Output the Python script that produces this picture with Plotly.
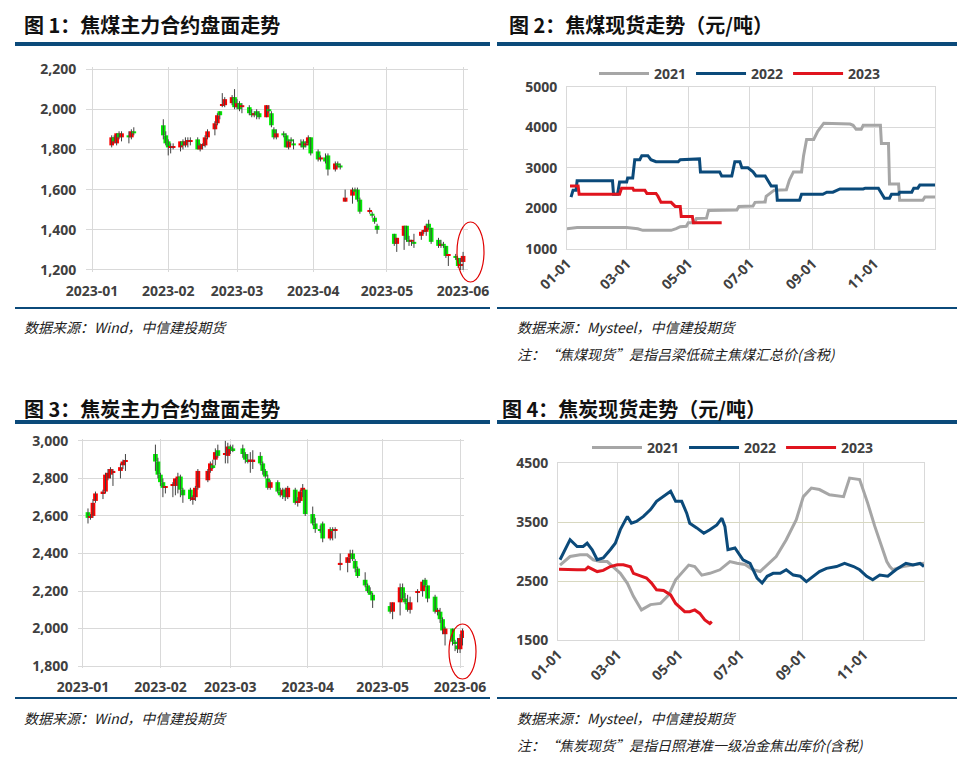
import plotly.graph_objects as go

W, H = 951, 750
OFF = 8
def px(x): return (x - OFF) / W
def py(y): return 1 - (y - OFF) / H

# ---------------- Chart 1: 焦煤 OHLC ----------------
jm_dates = ["2023-01-09","2023-01-10","2023-01-11","2023-01-12","2023-01-13","2023-01-16","2023-01-17","2023-01-18",
 "2023-01-30","2023-01-31","2023-02-01","2023-02-02","2023-02-03","2023-02-06","2023-02-07","2023-02-08","2023-02-09","2023-02-10",
 "2023-02-13","2023-02-14","2023-02-15","2023-02-16","2023-02-17","2023-02-20","2023-02-21","2023-02-22","2023-02-23","2023-02-24",
 "2023-02-27","2023-02-28","2023-03-01","2023-03-02","2023-03-03","2023-03-06","2023-03-07","2023-03-08","2023-03-09","2023-03-10",
 "2023-03-13","2023-03-14","2023-03-15","2023-03-16","2023-03-17","2023-03-20","2023-03-21","2023-03-22","2023-03-23","2023-03-24",
 "2023-03-27","2023-03-28","2023-03-29","2023-03-30","2023-03-31","2023-04-03","2023-04-04","2023-04-06","2023-04-07","2023-04-10",
 "2023-04-11","2023-04-12","2023-04-14","2023-04-17","2023-04-18","2023-04-19","2023-04-20","2023-04-24","2023-04-25","2023-04-26",
 "2023-04-27","2023-05-04","2023-05-05","2023-05-08","2023-05-09","2023-05-10","2023-05-11","2023-05-12","2023-05-15","2023-05-16",
 "2023-05-17","2023-05-18","2023-05-19","2023-05-22","2023-05-23","2023-05-24","2023-05-25","2023-05-26","2023-05-29","2023-05-30",
 "2023-05-31","2023-06-01"]
jm_open = [1820,1860,1830,1880,1860,1870,1860,1890, 1920,1870,1840,1810,1810,1810,1840,1820,1840,1840,
 1850,1800,1820,1820,1860,1900,1930,1990,2020,2020, 2030,2060,2010,2030,2010,2010,1980,1970,1990,1980,
 1960,2000,1980,1900,1860,1880,1870,1810,1850,1830, 1820,1840,1820,1830,1860,1790,1750,1760,1770,1700,
 1730,1720,1540,1570,1600,1600,1550,1490,1480,1460, 1420,1380,1330,1370,1420,1350,1340,1340,1370,1390,
 1390,1430,1410,1350,1320,1330,1320,1270,1270,1260, 1220,1240]
jm_high = [1870,1870,1880,1890,1890,1890,1900,1910, 1950,1890,1850,1830,1830,1840,1850,1860,1860,1860,
 1860,1830,1830,1870,1900,1940,1980,1990,2080,2060, 2070,2100,2050,2040,2030,2020,2000,1990,2000,1990,
 2020,2020,1990,1910,1900,1890,1880,1850,1860,1850, 1850,1850,1840,1870,1860,1800,1770,1780,1780,1740,
 1740,1730,1600,1610,1610,1610,1560,1510,1490,1470, 1430,1380,1360,1420,1420,1370,1350,1380,1390,1400,
 1430,1450,1410,1360,1350,1340,1320,1270,1280,1260, 1260,1290]
jm_low = [1810,1830,1820,1850,1840,1830,1850,1870, 1850,1820,1770,1780,1800,1790,1800,1810,1810,1820,
 1800,1790,1800,1810,1850,1870,1920,1950,2010,2010, 2020,2000,2000,1990,1980,1970,1960,1960,1950,1950,
 1960,1980,1910,1850,1850,1860,1810,1800,1830,1800, 1810,1800,1810,1820,1770,1740,1740,1730,1670,1690,
 1710,1700,1540,1530,1590,1540,1480,1480,1460,1430, 1380,1320,1290,1300,1340,1320,1320,1310,1350,1380,
 1370,1400,1330,1310,1310,1310,1260,1220,1250,1210, 1200,1200]
jm_close = [1860,1840,1880,1860,1880,1860,1890,1880, 1870,1830,1810,1810,1810,1840,1820,1840,1840,1840,
 1800,1820,1820,1860,1890,1930,1970,1970,2020,2050, 2060,2010,2030,2000,2020,1980,1970,1980,1970,1960,
 2020,1990,1920,1860,1880,1870,1810,1840,1840,1820, 1830,1810,1830,1860,1780,1750,1760,1740,1700,1730,
 1720,1710,1560,1600,1590,1550,1490,1490,1470,1440, 1400,1330,1360,1420,1350,1340,1350,1330,1390,1390,
 1420,1410,1340,1320,1330,1320,1270,1270,1260,1220, 1230,1270]

# ---------------- Chart 3: 焦炭 OHLC ----------------
j_dates = ["2023-01-03","2023-01-04","2023-01-05","2023-01-06","2023-01-09","2023-01-10","2023-01-11","2023-01-12","2023-01-13",
 "2023-01-16","2023-01-17","2023-01-18","2023-01-30","2023-01-31","2023-02-01","2023-02-02","2023-02-03","2023-02-06","2023-02-07",
 "2023-02-08","2023-02-09","2023-02-10","2023-02-13","2023-02-14","2023-02-15","2023-02-16","2023-02-20","2023-02-21","2023-02-22",
 "2023-02-23","2023-02-24","2023-02-27","2023-02-28","2023-03-01","2023-03-02","2023-03-06","2023-03-07","2023-03-08","2023-03-09",
 "2023-03-10","2023-03-13","2023-03-14","2023-03-15","2023-03-16","2023-03-17","2023-03-20","2023-03-21","2023-03-22","2023-03-23",
 "2023-03-24","2023-03-27","2023-03-28","2023-03-29","2023-03-30","2023-03-31","2023-04-03","2023-04-04","2023-04-06","2023-04-07",
 "2023-04-10","2023-04-11","2023-04-12","2023-04-14","2023-04-17","2023-04-18","2023-04-19","2023-04-20","2023-04-21","2023-04-24",
 "2023-04-25","2023-04-26","2023-04-27","2023-05-04","2023-05-05","2023-05-08","2023-05-09","2023-05-10","2023-05-11","2023-05-12",
 "2023-05-15","2023-05-17","2023-05-18","2023-05-19","2023-05-22","2023-05-23","2023-05-24","2023-05-25","2023-05-26","2023-05-29",
 "2023-05-30","2023-05-31","2023-06-01","2023-06-02"]
j_open = [2620,2590,2600,2680,2720,2730,2800,2820,2830, 2840,2870,2890,2930,2890,2820,2780,2750,2760,2760,
 2800,2810,2740,2740,2690,2700,2750,2790,2840,2870, 2900,2950,2930,2920,2970,2960,2960,2930,2900,2890,
 2890,2920,2880,2840,2800,2750,2780,2730,2710,2740, 2700,2740,2670,2680,2730,2740,2610,2560,2530,2560,
 2480,2530,2520,2340,2350,2380,2400,2360,2320,2260, 2230,2200,2180,2120,2090,2140,2220,2160,2140,2100,
 2190,2200,2260,2230,2170,2090,2090,2050,1970,2000, 1930,1910,1890,1950]
j_high = [2640,2610,2690,2730,2740,2830,2850,2860,2850, 2880,2900,2930,2980,2910,2830,2800,2760,2780,2800,
 2830,2820,2750,2750,2710,2760,2850,2850,2890,2900, 2960,2980,3000,2990,2980,2980,2980,2940,2930,2940,
 2950,2940,2890,2850,2820,2790,2790,2750,2750,2750, 2760,2750,2700,2740,2770,2740,2650,2590,2550,2570,
 2540,2540,2540,2400,2380,2420,2420,2370,2330,2300, 2240,2220,2190,2140,2140,2240,2240,2190,2180,2170,
 2210,2260,2270,2230,2180,2110,2110,2060,2010,2000, 1940,1950,1970,2000]
j_low = [2560,2580,2590,2670,2690,2720,2790,2800,2760, 2800,2850,2840,2840,2800,2760,2700,2720,2700,2710,
 2720,2700,2670,2680,2660,2680,2740,2780,2830,2850, 2870,2910,2880,2880,2930,2940,2910,2880,2880,2830,
 2850,2870,2820,2800,2740,2740,2720,2700,2690,2680, 2690,2660,2650,2670,2700,2600,2550,2510,2510,2460,
 2470,2470,2480,2310,2300,2350,2360,2300,2270,2220, 2190,2180,2110,2080,2050,2070,2150,2130,2090,2080,
 2140,2170,2220,2140,2080,2070,2030,1970,1910,1910, 1880,1870,1870,1910]
j_close = [2590,2600,2670,2720,2730,2820,2830,2850,2840, 2860,2890,2890,2890,2820,2780,2750,2750,2760,2800,
 2810,2740,2710,2690,2700,2750,2840,2840,2880,2860, 2940,2920,2930,2970,2960,2950,2930,2900,2890,2900,
 2900,2880,2840,2810,2750,2780,2730,2710,2740,2700, 2750,2670,2680,2730,2750,2610,2560,2530,2520,2480,
 2530,2520,2530,2350,2380,2400,2370,2320,2280,2230, 2200,2180,2150,2090,2140,2220,2160,2140,2100,2140,
 2200,2250,2230,2160,2090,2100,2050,1990,2000,1930, 1920,1890,1950,1990]

# ---------------- Chart 2: 焦煤现货 (day-of-year) ----------------
c2_2021_x = [0,5,10,59,70,75,103,108,112,118,120,126,128,138,140,168,170,184,186,196,197,205,217,220,224,232,234,237,244,248,254,280,283,286,291,293,310,311,318,319,328,329,352,354,364]
c2_2021_y = [1500,1510,1530,1530,1500,1460,1460,1500,1550,1560,1650,1650,1750,1760,1950,1960,2050,2060,2150,2160,2300,2450,2460,2700,2900,2900,3300,3700,3700,3900,4100,4080,4050,3950,3950,4050,4050,3600,3600,2600,2600,2200,2200,2280,2280]
c2_2022_x = [4,6,9,10,45,46,50,52,59,60,65,67,72,74,80,83,88,110,112,131,132,151,153,163,166,171,173,179,184,187,196,202,207,208,230,232,253,257,263,270,293,295,308,314,319,321,328,329,341,343,347,349,364]
c2_2022_y = [2280,2450,2450,2680,2680,2350,2350,2650,2650,2750,2750,3200,3200,3300,3300,3200,3150,3150,3200,3220,2900,2900,2800,2800,3150,3150,3000,3000,2900,2800,2800,2550,2550,2200,2200,2350,2350,2400,2400,2480,2480,2500,2500,2250,2250,2350,2350,2400,2400,2500,2500,2580,2580]
c2_2023_x = [3,11,12,52,54,65,66,77,79,88,90,93,103,107,112,113,124,125,153]
c2_2023_y = [2550,2550,2350,2350,2500,2500,2450,2450,2370,2370,2300,2150,2150,2050,2050,1800,1800,1650,1650]

# ---------------- Chart 4: 焦炭现货 (day-of-year) ----------------
c4_2021_x = [2,12,22,29,35,42,49,55,62,69,75,83,92,102,110,117,123,130,136,143,151,161,171,178,186,194,201,208,217,227,237,244,252,260,270,284,290,300,308,315,322,327,330,333,343,353,364]
c4_2021_y = [2770,2915,2945,2945,2860,2830,2830,2745,2630,2460,2240,2010,2100,2120,2260,2520,2630,2770,2745,2600,2630,2690,2830,2800,2780,2690,2660,2770,2915,3200,3540,3930,4075,4050,3960,3930,4245,4220,3820,3430,3090,2830,2745,2690,2745,2770,2800]
c4_2022_x = [2,7,12,19,25,29,34,39,45,52,57,62,69,73,78,85,92,98,105,112,117,123,128,131,138,145,151,158,163,166,169,176,184,191,198,203,208,214,221,227,234,241,247,254,260,267,277,285,294,300,307,313,320,328,336,346,353,360,364]
c4_2022_y = [2860,3030,3200,3085,3085,3140,3030,2860,2890,3030,3140,3370,3595,3480,3510,3595,3710,3850,3935,4020,3850,3850,3650,3480,3400,3310,3370,3450,3565,3425,3030,3060,2860,2800,2550,2465,2580,2630,2630,2690,2600,2580,2490,2580,2660,2715,2745,2800,2745,2690,2580,2520,2600,2580,2690,2800,2770,2800,2745]
c4_2023_x = [1,9,19,27,30,39,45,52,59,65,72,75,82,88,93,98,105,112,117,121,126,131,136,141,146,151,153]
c4_2023_y = [2700,2690,2690,2690,2735,2660,2680,2745,2775,2775,2740,2630,2580,2550,2465,2350,2340,2265,2120,2065,1980,1980,2010,1950,1840,1780,1810]

month_ticks = [0, 59, 120, 181, 243, 304]
month_text = ["01-01", "03-01", "05-01", "07-01", "09-01", "11-01"]
c4_yticks = [1500, 2500, 3500, 4500]
years = ["2021", "2022", "2023"]
colors = ["#A6A6A6", "#0B4A7A", "#E0141E"]

fig = go.Figure()

def add_candles(dates, o, h, l, c, xa, ya):
    wx, wy = [], []
    for d, hi, lo in zip(dates, h, l):
        wx += [d, d, None]; wy += [lo, hi, None]
    fig.add_trace(go.Scatter(x=wx, y=wy, mode="lines", line=dict(color="#404040", width=1),
                             xaxis=xa, yaxis=ya, showlegend=False, hoverinfo="skip"))
    base = [min(a, b) for a, b in zip(o, c)]
    hgt = [max(abs(b - a), 5) for a, b in zip(o, c)]
    col = ["#FF0000" if b >= a else "#00EE00" for a, b in zip(o, c)]
    fig.add_trace(go.Bar(x=dates, y=hgt, base=base, marker=dict(color=col, line=dict(width=0)),
                         width=1.9 * 86400000, xaxis=xa, yaxis=ya, showlegend=False))

add_candles(jm_dates, jm_open, jm_high, jm_low, jm_close, "x", "y")
add_candles(j_dates, j_open, j_high, j_low, j_close, "x3", "y3")

for yr, col, xs, ys in zip(years, colors, [c2_2021_x, c2_2022_x, c2_2023_x], [c2_2021_y, c2_2022_y, c2_2023_y]):
    fig.add_trace(go.Scatter(x=xs, y=ys, mode="lines", name=yr, line=dict(color=col, width=3),
                             xaxis="x2", yaxis="y2", legend="legend"))
for yr, col, xs, ys in zip(years, colors, [c4_2021_x, c4_2022_x, c4_2023_x], [c4_2021_y, c4_2022_y, c4_2023_y]):
    fig.add_trace(go.Scatter(x=xs, y=ys, mode="lines", name=yr, line=dict(color=col, width=3),
                             xaxis="x4", yaxis="y4", legend="legend2"))

tickfont = dict(family="Open Sans", size=14, color="#404040", weight="bold")
grid = "#D9D9D9"
common = dict(automargin=False, zeroline=False, tickfont=tickfont, showgrid=True)
xt = dict(ticks="outside", ticklen=6, tickcolor="rgba(0,0,0,0)")
yt = dict(ticks="outside", ticklen=6, tickcolor="rgba(0,0,0,0)")

fig.update_layout(
    width=W, height=H, margin=dict(l=0, r=0, t=0, b=0, autoexpand=False),
    paper_bgcolor="white", plot_bgcolor="white", barmode="overlay",
    xaxis=dict(domain=[px(86), px(468)], type="date", range=["2022-12-29 13:00", "2023-06-03"],
               dtick="M1", tick0="2023-01-01", tickformat="%Y-%m", gridcolor=grid, anchor="y", **xt, **common),
    yaxis=dict(domain=[py(272), py(67)], range=[1190, 2210], tickvals=[1200,1400,1600,1800,2000,2200],
               tickformat=",", gridcolor=grid, anchor="x", **yt, **common),
    xaxis3=dict(domain=[px(78), px(464)], type="date", range=["2022-12-30", "2023-06-02 14:00"],
                dtick="M1", tick0="2023-01-01", tickformat="%Y-%m", gridcolor=grid, anchor="y3", **xt, **common),
    yaxis3=dict(domain=[py(668), py(439)], range=[1790, 3010], tickvals=[1800,2000,2200,2400,2600,2800,3000],
                tickformat=",", gridcolor=grid, anchor="x3", **yt, **common),
    xaxis2=dict(domain=[px(567), px(935)], range=[0, 364], tickvals=month_ticks, ticktext=month_text,
                tickangle=-45, gridcolor=grid, showline=True, linecolor=grid, mirror=True, anchor="y2", **common),
    yaxis2=dict(domain=[py(249), py(86.7)], range=[1000, 5000], dtick=1000, gridcolor=grid,
                showline=True, linecolor=grid, mirror=True, anchor="x2", **yt, **common),
    xaxis4=dict(domain=[px(558), px(924)], range=[0, 364], tickvals=month_ticks, ticktext=month_text,
                tickangle=-45, gridcolor=grid, showline=True, linecolor=grid, mirror=True, anchor="y4", **common),
    yaxis4=dict(domain=[py(640), py(463)], range=[1500, 4500], tickvals=c4_yticks, gridcolor="#D8D8C0",
                showline=True, linecolor=grid, mirror=True, anchor="x4", **yt, **common),
    legend=dict(orientation="h", x=px(740), y=py(74), xanchor="center", yanchor="middle",
                font=dict(family="Open Sans", size=14, color="#404040", weight="bold"), itemwidth=50,
                bgcolor="rgba(0,0,0,0)"),
    legend2=dict(orientation="h", x=px(733), y=py(448), xanchor="center", yanchor="middle",
                 font=dict(family="Open Sans", size=14, color="#404040", weight="bold"), itemwidth=50,
                 bgcolor="rgba(0,0,0,0)"),
    showlegend=True,
)

shapes = []
for x0, x1, y in [(15, 490, 44), (497, 957, 44), (15, 490, 422), (497, 957, 422),
                  (15, 490, 308), (497, 957, 308), (15, 490, 698), (497, 957, 698)]:
    shapes.append(dict(type="line", xref="paper", yref="paper", x0=px(x0), x1=px(x1), y0=py(y), y1=py(y),
                       line=dict(color="#0B4A7A", width=4 if y in (44, 422) else 2)))
for x0, x1, y0, y1 in [(457, 484, 222, 282), (449, 476, 624, 679)]:
    shapes.append(dict(type="circle", xref="paper", yref="paper", x0=px(x0), x1=px(x1), y0=py(y1), y1=py(y0),
                       line=dict(color="#E00000", width=1.2)))
fig.update_layout(shapes=shapes)

tfont = dict(family="Noto Sans CJK SC", size=20, color="#111111", weight="bold")
sfont = dict(family="Noto Sans CJK SC", size=14, color="#222222", style="italic")
ann = [
    (22, 25, "图 1：焦煤主力合约盘面走势", tfont),
    (507, 25, "图 2：焦煤现货走势（元/吨）", tfont),
    (22, 408, "图 3：焦炭主力合约盘面走势", tfont),
    (500, 408, "图 4：焦炭现货走势（元/吨）", tfont),
    (22, 327, "数据来源：Wind，中信建投期货", sfont),
    (515, 327, "数据来源：Mysteel，中信建投期货", sfont),
    (515, 354, "注：“焦煤现货”是指吕梁低硫主焦煤汇总价(含税)", sfont),
    (22, 718, "数据来源：Wind，中信建投期货", sfont),
    (515, 718, "数据来源：Mysteel，中信建投期货", sfont),
    (515, 745, "注：“焦炭现货”是指日照港准一级冶金焦出库价(含税)", sfont),
]
fig.update_layout(annotations=[dict(x=px(x), y=py(y), xref="paper", yref="paper", text=t, showarrow=False,
                                    xanchor="left", yanchor="middle", font=f) for x, y, t, f in ann])

fig.write_html("out.html")
